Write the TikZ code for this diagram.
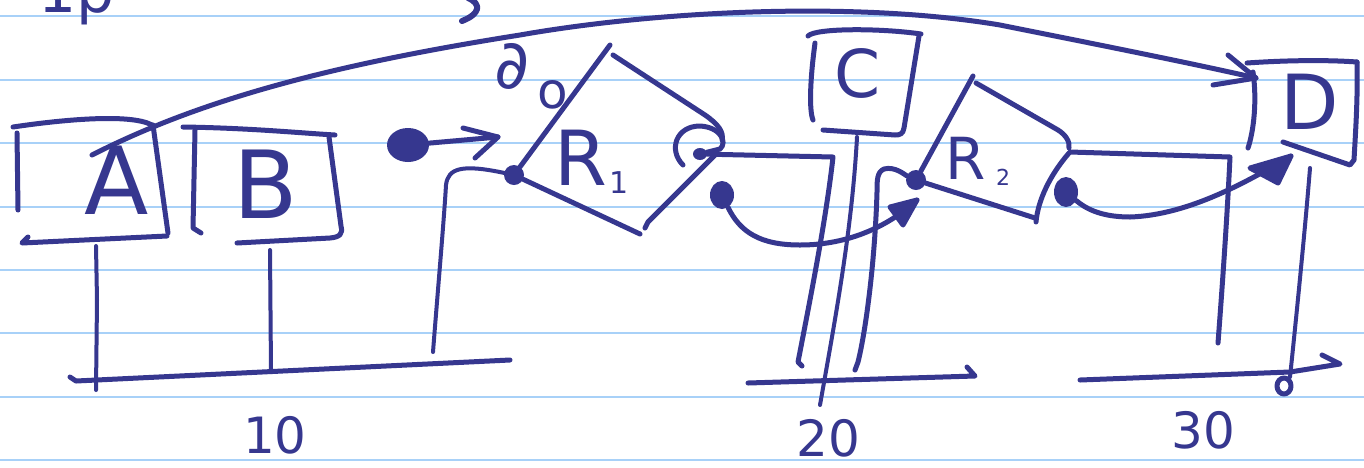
\documentclass[tikz,border=0pt]{standalone}
\usepackage{fontspec}
\setmainfont{DejaVu Sans}
\usetikzlibrary{shapes.geometric}
\definecolor{ink}{HTML}{36378F}
\definecolor{ruleblue}{HTML}{A8D1F8}
\newcommand{\myfs}[1]{\fontsize{#1}{#1}\selectfont}
\tikzset{
  pen/.style={draw=ink, line width=5pt, line cap=round, line join=round},
  thinpen/.style={pen, line width=4pt},
  blob/.style={ellipse, fill=ink, inner sep=0pt},
  lbl/.style={text=ink, inner sep=0pt},
}
\begin{document}
\begin{tikzpicture}[x=1pt,y=-1pt]
\fill[white] (0,0) rectangle (1364,467);
\useasboundingbox (0,0) rectangle (1364,467);
% ruled paper
\foreach \yy in {16,80,143,207,270,333,397,460}
  \draw[ruleblue, line width=2pt] (0,\yy) -- (1364,\yy);

% cut-off text at the top
\node[lbl, anchor=base west, font={\myfs{60}}] (frag) at (38,12) {1p};
\draw[pen, line width=6pt] (468,-2) .. controls (482,4) and (480,14) .. (462,21);

% ---------- labels ----------
\node[lbl, font={\myfs{94}}] (A) at (117,180) {A};
\node[lbl, font={\myfs{94}}] (B) at (266,184) {B};
\node[lbl, font={\myfs{66}}] (C) at (858,73) {C};
\node[lbl, font={\myfs{76}}] (D) at (1310,102) {D};
\node[lbl, font={\myfs{76}}] (R1) at (581,158) {R};
\node[lbl, font={\myfs{30}}] (R1s) at (619,183) {1};
\node[lbl, font={\myfs{58}}] (R2) at (966,158) {R};
\node[lbl, font={\myfs{22}}] (R2s) at (1003,177) {2};
\node[lbl, font={\myfs{68}}] (dd) at (512,66) {∂};
\node[lbl, font={\myfs{50}}] (ddo) at (553,95) {o};
\node[lbl, font={\myfs{50}}] (n10) at (275,435) {10};
\node[lbl, font={\myfs{50}}] (n20) at (828,438) {20};
\node[lbl, font={\myfs{50}}] (n30) at (1203,430) {30};

% ---------- dots ----------
\node[blob, minimum width=42pt, minimum height=34pt] (p0) at (408,145) {};
\node[blob, minimum width=20pt, minimum height=20pt] (p1) at (514,175) {};
\node[blob, minimum width=14pt, minimum height=12pt] (p2) at (700,154) {};
\node[blob, minimum width=24pt, minimum height=28pt] (p3) at (722,195) {};
\node[blob, minimum width=20pt, minimum height=20pt] (p4) at (916,180) {};
\node[blob, minimum width=24pt, minimum height=30pt] (p5) at (1066,192) {};

% ---------- box A ----------
\draw[pen] (13,127) .. controls (60,120) and (130,113) .. (152,125);
\draw[pen] (17,133) -- (18,210);
\draw[pen] (153,125) -- (168,233);
\draw[pen] (167,236) -- (22,243) -- (28,237);
% ---------- box B ----------
\draw[pen] (183,127) .. controls (250,128) and (300,133) .. (335,135);
\draw[pen] (195,130) -- (193,228) -- (201,233);
\draw[pen] (329,137) -- (341,226) .. controls (343,234) and (340,237) .. (330,238) -- (237,243);
% stems and base line (left)
\draw[thinpen] (96,246) -- (97,300) -- (96,390);
\draw[thinpen] (270,250) -- (271,372);
\draw[pen] (70,377) -- (76,381) -- (510,360);
\draw[thinpen] (433,352) .. controls (437,300) and (444,220) .. (446,185)
   .. controls (448,168) and (462,164) .. (p1);

% big arc A -> D
\coordinate (arcS) at (92,155);
\coordinate (Din) at (1256,78);
\draw[pen] (arcS) .. controls (200,100) and (330,65) .. (520,35)
   .. controls (650,12) and (850,0) .. (1000,25)
   .. controls (1100,45) and (1200,65) .. (Din);
\draw[pen] (1228,55) -- (Din) -- (1213,85);

% small arrow from big dot
\coordinate (a0) at (498,137);
\draw[pen] (p0) -- (a0);
\draw[pen] (463,128) -- (a0) -- (475,158);

% ---------- R1 ----------
\draw[pen] (610,45) -- (p1);
\draw[pen] (613,55) -- (705,115) .. controls (718,124) and (724,132) .. (722,140);
\draw[pen] (717,153) -- (648,222) -- (645,228);
\draw[pen] (p1) -- (640,234);
\draw[pen] (683,165) .. controls (668,150) and (676,126) .. (700,126)
   .. controls (720,127) and (728,142) .. (720,149) -- (p2);
\draw[pen] (p2) -- (833,157) .. controls (826,220) and (810,300) .. (798,362) -- (802,366);

% curve from p3 to R2 input
\coordinate (a3) at (917,200);
\draw[pen] (p3) .. controls (740,232) and (760,245) .. (800,245)
   .. controls (850,245) and (890,225) .. (a3);
\draw[pen, fill=ink] (890,207) -- (a3) -- (903,225) -- cycle;

% ---------- box C ----------
\draw[pen] (808,36) .. controls (815,28) and (880,28) .. (921,34);
\draw[pen] (815,43) .. controls (810,80) and (809,110) .. (813,120);
\draw[pen] (919,36) -- (904,128) .. controls (903,134) and (900,135) .. (895,135) -- (823,130);
\draw[thinpen] (857,137) .. controls (852,230) and (835,320) .. (820,405);

% line from R2 dot down
\draw[pen] (p4) .. controls (905,175) and (895,166) .. (884,169)
   .. controls (877,172) and (877,180) .. (877,192)
   .. controls (875,260) and (866,330) .. (858,362) -- (855,370);
% base line (middle)
\draw[pen] (748,383) -- (975,376) -- (967,367);

% ---------- R2 ----------
\draw[pen] (973,76) -- (p4);
\draw[pen] (976,83) -- (1058,130) .. controls (1066,135) and (1070,142) .. (1069,148);
\draw[pen] (1069,153) .. controls (1050,175) and (1038,200) .. (1036,222);
\draw[pen] (p4) -- (1035,218);
\draw[pen] (1070,152) -- (1230,157) .. controls (1227,220) and (1222,290) .. (1218,343);

% curve from p5 to D
\coordinate (a5) at (1291,156);
\draw[pen] (p5) .. controls (1085,208) and (1100,217) .. (1130,217)
   .. controls (1190,215) and (1250,180) .. (a5);
\draw[pen, fill=ink] (1250,168) -- (a5) -- (1278,183) -- cycle;

% ---------- box D ----------
\draw[pen] (1247,63) .. controls (1290,60) and (1330,60) .. (1357,62);
\draw[pen] (1253,72) .. controls (1257,100) and (1254,130) .. (1248,148);
\draw[pen] (1357,62) .. controls (1358,100) and (1355,140) .. (1354,160) -- (1350,165) -- (1283,142);
\draw[thinpen] (1310,168) .. controls (1305,230) and (1296,320) .. (1290,377);
\draw[pen] (1080,380) -- (1290,372) -- (1340,364) -- (1322,355);
\draw[pen] (1284,386) ellipse (7 and 8);
\end{tikzpicture}
\end{document}
